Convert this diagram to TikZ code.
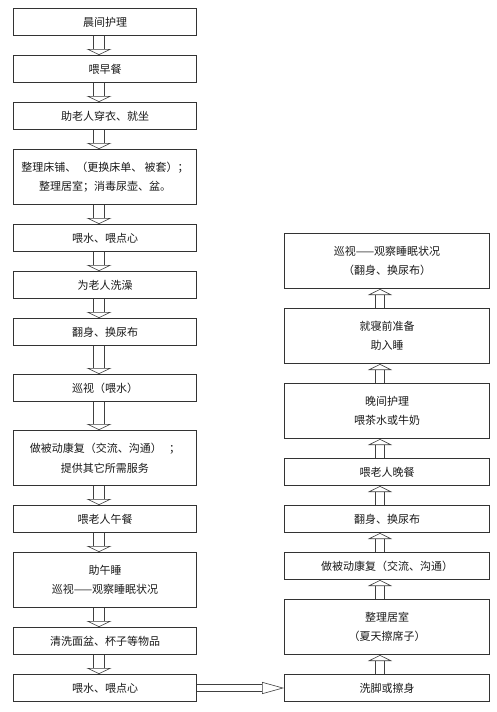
\documentclass[tikz,border=0pt]{standalone}
\usepackage{fontspec}
\newfontfamily\cjk{Noto Sans CJK SC}
\usetikzlibrary{positioning, arrows.meta}

\begin{document}
\begin{tikzpicture}[
  node distance=19pt and 87pt,
  box/.style={draw=black!80, line width=0.8pt, minimum width=183.2pt,
    minimum height=27.2pt, align=center, text=black!90,
    font=\cjk\fontsize{11pt}{19.5pt}\selectfont},
  tall/.style={box, minimum height=55.2pt},
  rbox/.style={box, minimum width=205.2pt},
  rtall/.style={rbox, minimum height=55.2pt},
  down/.style={double=white, double distance=10.6pt, line width=0.6pt, draw=black!75,
    -{Triangle[fill=white, line width=0.6pt, width=25pt, length=6pt]}},
  up/.style={double=white, double distance=8.8pt, line width=0.6pt, draw=black!75,
    -{Triangle[fill=white, line width=0.6pt, width=24pt, length=6pt]}},
  side/.style={double=white, double distance=6.8pt, line width=0.6pt, draw=black!75,
    -{Triangle[fill=white, line width=0.6pt, width=12pt, length=22pt]}}
]
  \useasboundingbox (0,0) rectangle (497pt,-712pt);

  % morning to noon
  \node[box, anchor=north west] (morning) at (13pt,-8pt) {晨间护理};
  \node[box, below=of morning] (breakfast) {喂早餐};
  \node[box, below=of breakfast] (dress)   {助老人穿衣、就坐};
  \node[tall, below=of dress] (bed)        {整理床铺、（更换床单、 被套）；\\整理居室；消毒尿壶、盆。};
  \node[box, below=of bed] (snack)         {喂水、喂点心};
  \node[box, below=of snack] (bath)        {为老人洗澡};
  \node[box, below=of bath] (turn)         {翻身、换尿布};
  \node[box, below=28pt of turn] (patrol)  {巡视（喂水）};
  \node[tall, below=28pt of patrol] (rehab) {做被动康复（交流、沟通）\ \ \ ；\\提供其它所需服务};
  \node[box, below=of rehab] (lunch)       {喂老人午餐};
  \node[tall, below=of lunch] (nap)        {助午睡\\巡视——观察睡眠状况};
  \node[box, below=of nap] (wash)          {清洗面盆、杯子等物品};
  \node[box, below=of wash] (snackb)       {喂水、喂点心};

  % afternoon to night
  \node[rbox, right=of snackb] (feet)      {洗脚或擦身};
  \node[rtall, above=of feet] (room)       {整理居室\\（夏天擦席子）};
  \node[rbox, above=of room] (rehabb)      {做被动康复（交流、沟通）};
  \node[rbox, above=of rehabb] (turnb)     {翻身、换尿布};
  \node[rbox, above=of turnb] (supper)     {喂老人晚餐};
  \node[rtall, above=of supper] (evening)  {晚间护理\\喂茶水或牛奶};
  \node[rtall, above=of evening] (sleep)   {就寝前准备\\助入睡};
  \node[rtall, above=of sleep] (night)     {巡视——观察睡眠状况\\（翻身、换尿布）};

  \foreach \a/\b in {morning/breakfast, breakfast/dress, dress/bed, bed/snack,
      snack/bath, bath/turn, turn/patrol, patrol/rehab, rehab/lunch,
      lunch/nap, nap/wash, wash/snackb}
    \draw[down] ([xshift=-6pt]\a.south) -- ([xshift=-6pt]\b.north);

  \draw[side] (snackb) -- (feet);

  \foreach \a/\b in {feet/room, room/rehabb, rehabb/turnb, turnb/supper,
      supper/evening, evening/sleep, sleep/night}
    \draw[up] ([xshift=-7pt]\a.north) -- ([xshift=-7pt]\b.south);
\end{tikzpicture}
\end{document}
